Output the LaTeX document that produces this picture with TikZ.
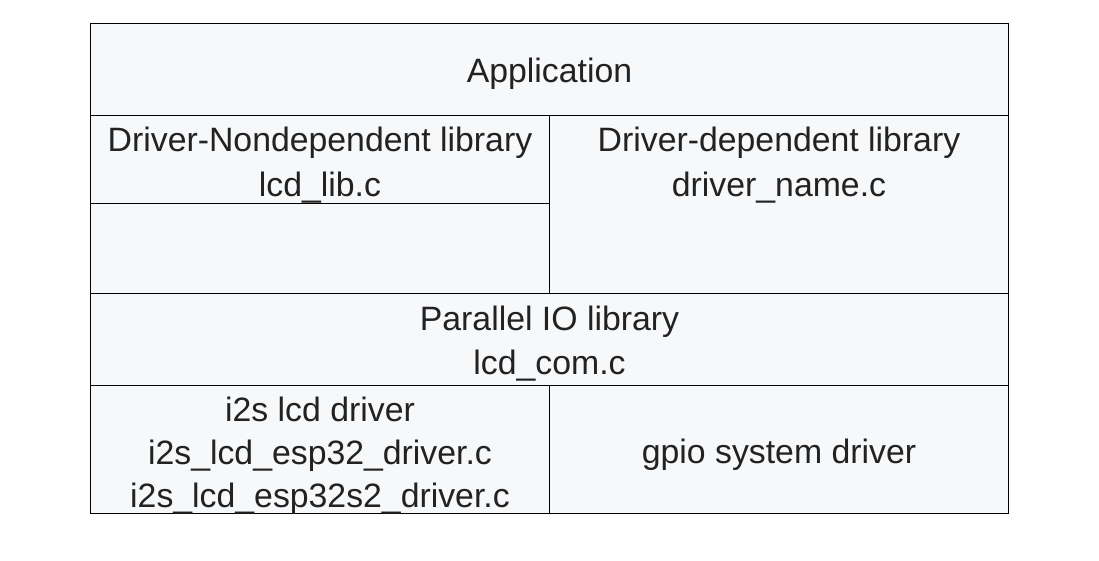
\documentclass[tikz,border=0pt]{standalone}
\usepackage{fontspec}
\setmainfont{Liberation Sans}
\usepackage{xcolor}
\usepackage{tikz}
\usetikzlibrary{positioning,calc}
\definecolor{cellbg}{HTML}{F7F8FA}
\definecolor{celltext}{HTML}{222222}

\begin{document}
\begin{tikzpicture}[
    x=1pt,
    y=-1pt,
    font=\fontsize{33.8}{44}\selectfont,
    cell/.style={
        draw=black,
        line width=1pt,
        fill=cellbg,
        anchor=north west,
        inner sep=0pt
    },
    label text/.style={
        inner sep=0pt,
        align=center,
        text=celltext,
        yshift=-4pt
    }
]
\useasboundingbox (0,0) rectangle (1099,560);

% outer frame
\node[cell, minimum width=918pt, minimum height=490pt] (frame) at (90,23) {};

% boxes
\node[cell, minimum width=918pt, minimum height=92pt] (app) at (90,23) {};
\node[cell, minimum width=459pt, minimum height=178pt] (depbox) at (549,115) {};
\node[cell, minimum width=459pt, minimum height=88pt] (nondep) at (90,115) {};
\node[cell, minimum width=918pt, minimum height=92pt] (pio) at (90,293) {};
\node[cell, minimum width=459pt, minimum height=128pt] (i2s) at (90,385) {};
\node[cell, minimum width=459pt, minimum height=128pt] (gpio) at (549,385) {};

% texts
\node[label text] (apptext) at (app.center) {Application};
\node[label text, yshift=-1.5pt, font=\fontsize{33.8}{45}\selectfont] (nondeptext) at (nondep.center)
{Driver-Nondependent library\\lcd\_lib.c};
\node[label text, yshift=-1.5pt, font=\fontsize{33.8}{45}\selectfont] (deptext) at (nondep.center -| depbox.center)
{Driver-dependent library\\driver\_name.c};
\node[label text] (piotext) at (pio.center)
{Parallel IO library\\lcd\_com.c};
\node[label text, yshift=-2.5pt, font=\fontsize{33.8}{43}\selectfont] (i2stext) at (i2s.center)
{i2s lcd driver\\i2s\_lcd\_esp32\_driver.c\\i2s\_lcd\_esp32s2\_driver.c};
\node[label text, yshift=-1pt] (gpiotext) at (gpio.center)
{gpio system driver};

\end{tikzpicture}
\end{document}
